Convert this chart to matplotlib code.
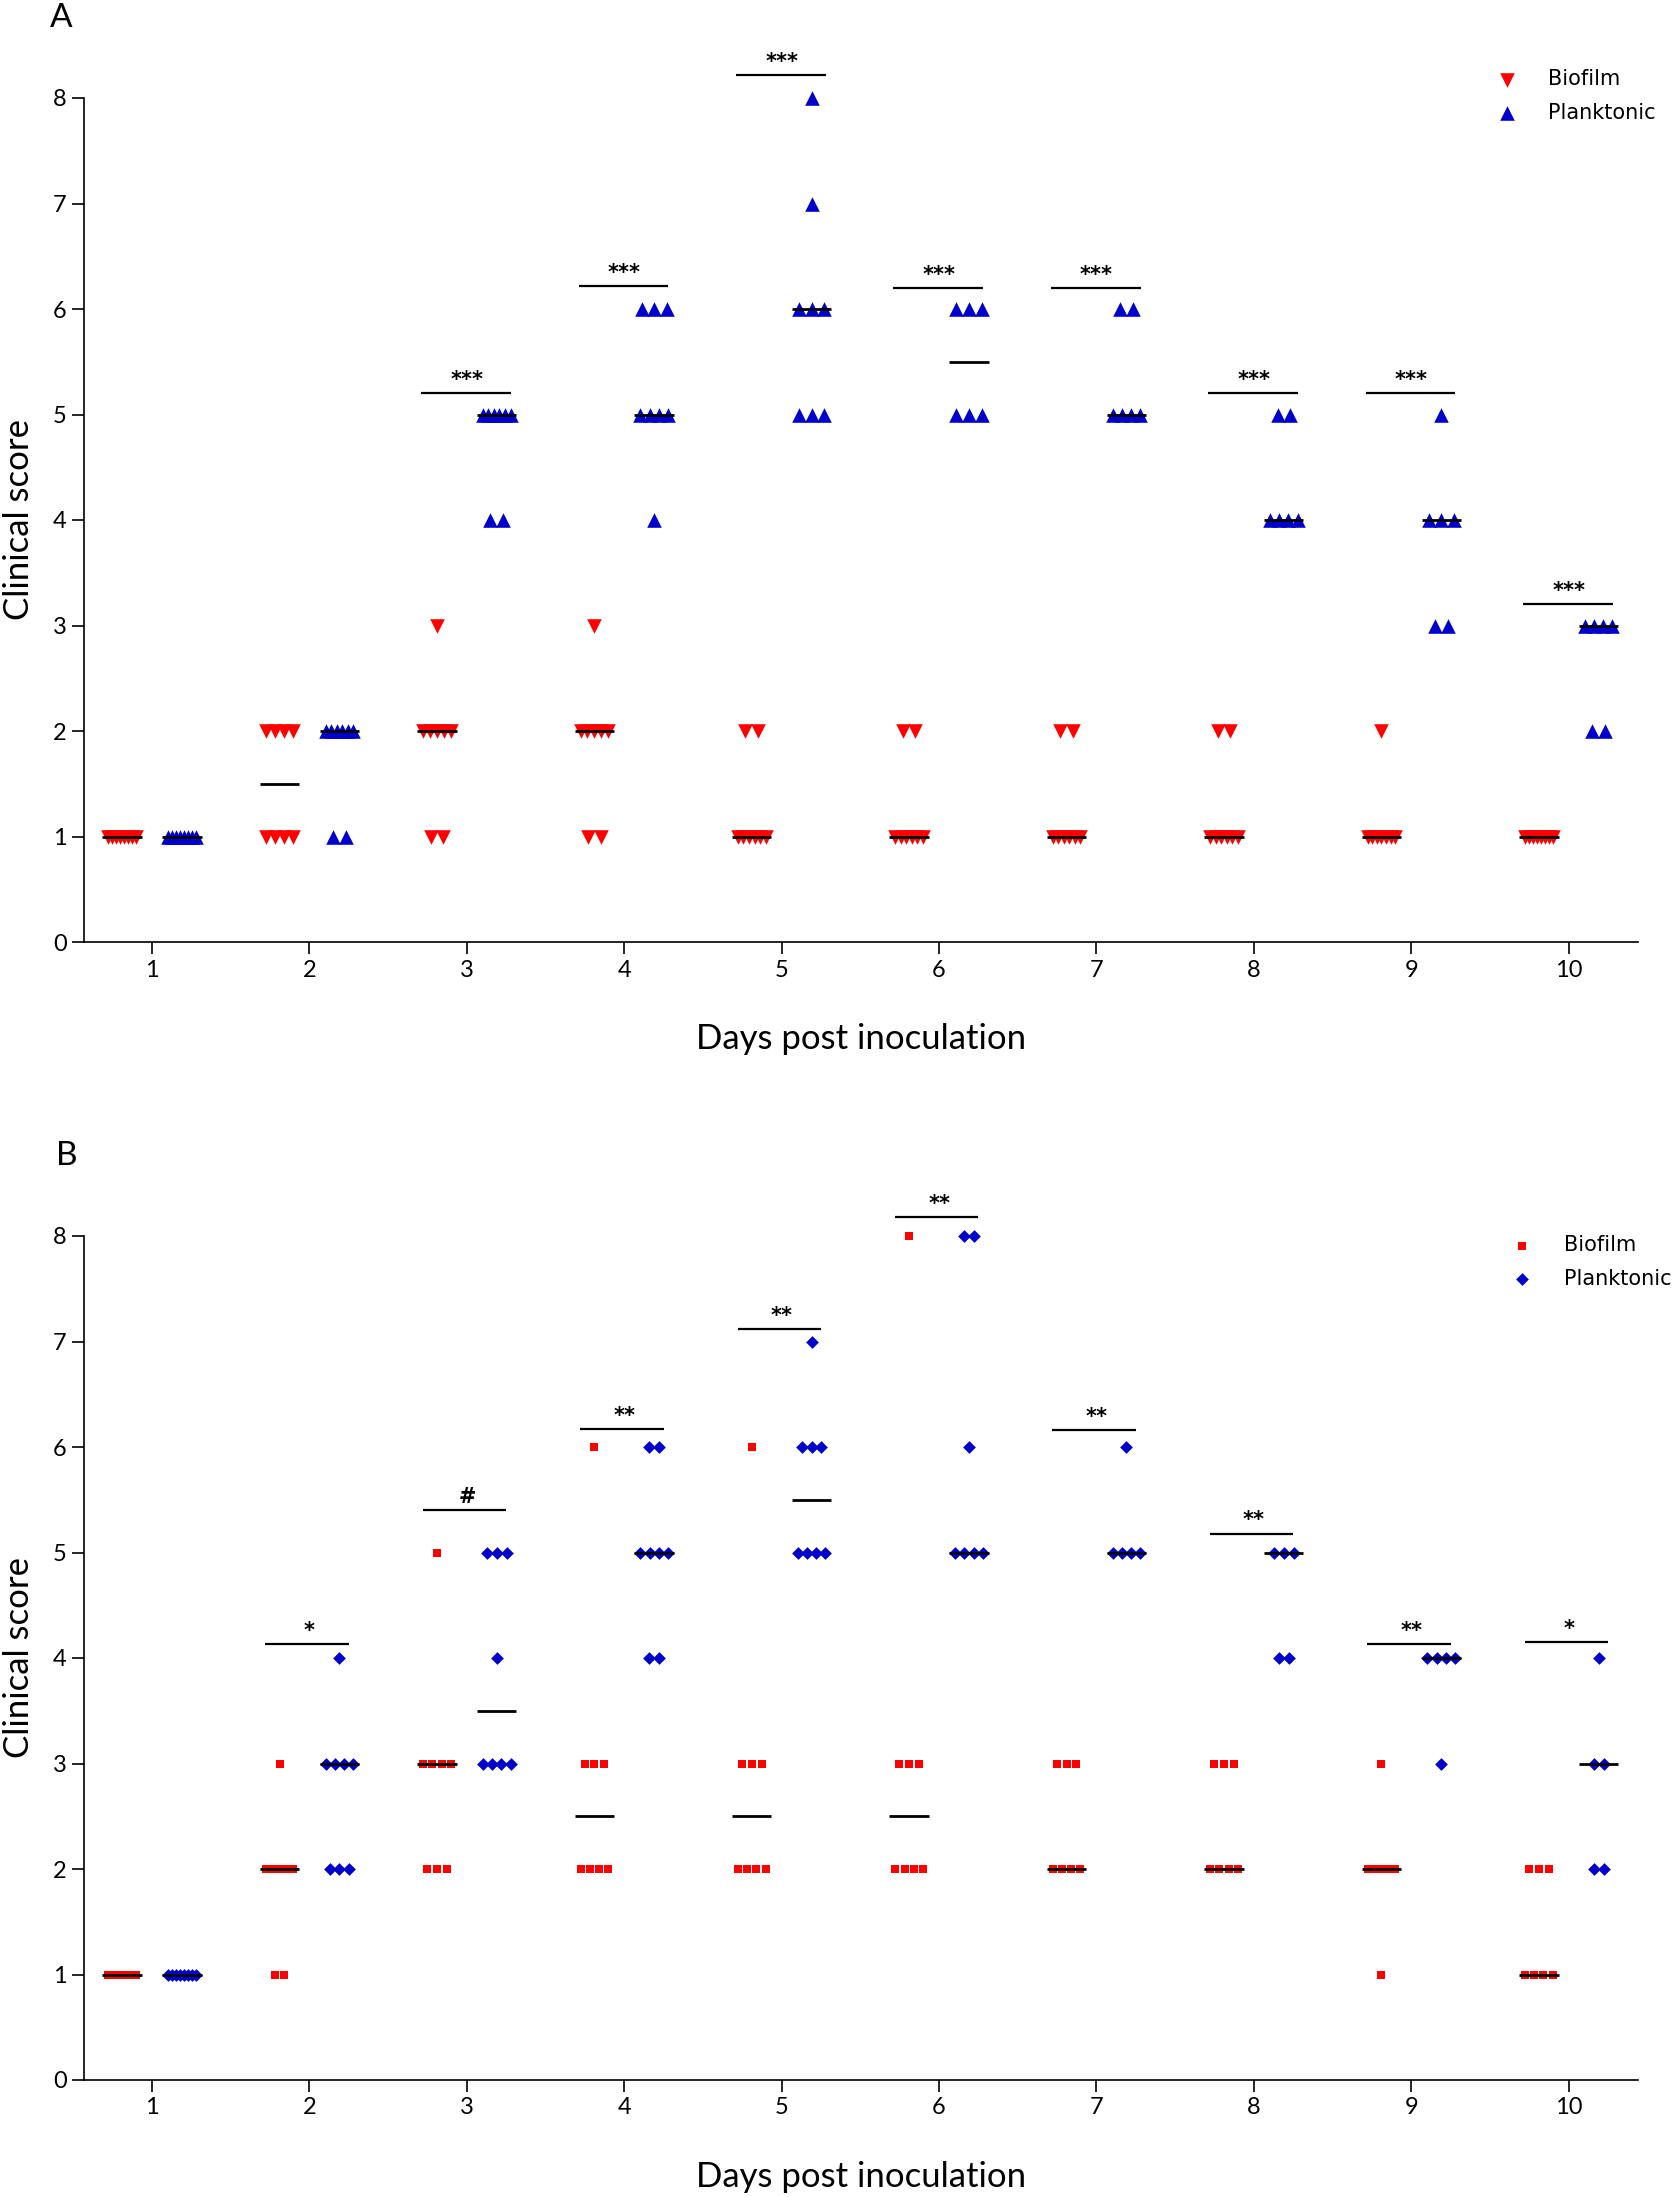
import matplotlib.pyplot as plt
import numpy as np

# clinical scores per day (8 mice per group at start)
days = [1, 2, 3, 4, 5, 6, 7, 8, 9, 10]

a_biofilm = [
    [1, 1, 1, 1, 1, 1, 1, 1],
    [2, 2, 2, 2, 1, 1, 1, 1],
    [3, 2, 2, 2, 2, 2, 1, 1],
    [3, 2, 2, 2, 2, 2, 1, 1],
    [2, 2, 1, 1, 1, 1, 1, 1],
    [2, 2, 1, 1, 1, 1, 1, 1],
    [2, 2, 1, 1, 1, 1, 1, 1],
    [2, 2, 1, 1, 1, 1, 1, 1],
    [2, 1, 1, 1, 1, 1, 1, 1],
    [1, 1, 1, 1, 1, 1, 1, 1],
]
a_plank = [
    [1, 1, 1, 1, 1, 1, 1, 1],
    [2, 2, 2, 2, 2, 2, 1, 1],
    [5, 5, 5, 5, 5, 5, 4, 4],
    [6, 6, 6, 5, 5, 5, 5, 4],
    [8, 7, 6, 6, 6, 5, 5, 5],
    [6, 6, 6, 5, 5, 5],
    [6, 6, 5, 5, 5, 5],
    [5, 5, 4, 4, 4, 4],
    [5, 4, 4, 4, 3, 3],
    [3, 3, 3, 3, 2, 2],
]
a_sig = ['', '', '***', '***', '***', '***', '***', '***', '***', '***']
a_sig_y = [0, 0, 5.2, 6.22, 8.22, 6.2, 6.2, 5.2, 5.2, 3.2]

b_biofilm = [
    [1, 1, 1, 1, 1, 1, 1, 1],
    [3, 2, 2, 2, 2, 2, 1, 1],
    [5, 3, 3, 3, 3, 2, 2, 2],
    [6, 3, 3, 3, 2, 2, 2, 2],
    [6, 3, 3, 3, 2, 2, 2, 2],
    [8, 3, 3, 3, 2, 2, 2, 2],
    [3, 3, 3, 2, 2, 2, 2],
    [3, 3, 3, 2, 2, 2, 2],
    [3, 2, 2, 2, 2, 2, 2, 1],
    [2, 2, 2, 1, 1, 1, 1],
]
b_plank = [
    [1, 1, 1, 1, 1, 1, 1, 1],
    [4, 3, 3, 3, 3, 2, 2, 2],
    [5, 5, 5, 4, 3, 3, 3, 3],
    [6, 6, 5, 5, 5, 5, 4, 4],
    [7, 6, 6, 6, 5, 5, 5, 5],
    [8, 8, 6, 5, 5, 5, 5],
    [6, 5, 5, 5, 5],
    [5, 5, 5, 4, 4],
    [4, 4, 4, 4, 3],
    [4, 3, 3, 2, 2],
]
b_sig = ['', '*', '#', '**', '**', '**', '**', '**', '**', '*']
b_sig_y = [0, 4.13, 5.4, 6.17, 7.12, 8.18, 6.16, 5.18, 4.13, 4.15]

RED = '#ff0000'
BLUE = '#0000cc'
LABEL_FONT = 'Lato'


def spread(values, center, step, maxspan):
    # lay out tied scores side by side, like a column scatter
    values = np.asarray(values, dtype=float)
    xs = np.zeros(len(values))
    for v in np.unique(values):
        idx = np.where(values == v)[0]
        k = len(idx)
        if k == 1:
            xs[idx] = center
            continue
        span = min((k - 1) * step, maxspan)
        xs[idx] = center + np.linspace(-span / 2, span / 2, k)
    return xs


def draw_panel(ax, biofilm, plank, mk_b, mk_p, size_b, size_p, step,
               sig, sig_y, sig_left, sig_right, legend_pos):
    off = 0.19
    for i, d in enumerate(days):
        xb = spread(biofilm[i], d - off, step, 0.175)
        xp = spread(plank[i], d + off, step, 0.175)
        hb = ax.scatter(xb, biofilm[i], marker=mk_b, s=size_b, color=RED,
                        linewidths=0, zorder=3, clip_on=False)
        hp = ax.scatter(xp, plank[i], marker=mk_p, s=size_p, color=BLUE,
                        linewidths=0, zorder=3, clip_on=False)
        ax.hlines(np.median(biofilm[i]), d - off - 0.125, d - off + 0.125,
                  color='black', lw=2, zorder=4)
        ax.hlines(np.median(plank[i]), d + off - 0.125, d + off + 0.125,
                  color='black', lw=2, zorder=4)
        if sig[i]:
            ax.hlines(sig_y[i], d - sig_left, d + sig_right, color='black',
                      lw=1.6, clip_on=False)
            ax.text(d, sig_y[i] + 0.03, sig[i], ha='center', va='bottom',
                    fontsize=15, fontweight='bold', family='DejaVu Sans')

    ax.set_xlim(0.568, 10.44)
    ax.set_ylim(0, 8)
    ax.set_xticks(days)
    ax.set_yticks(range(0, 9))
    ax.tick_params(axis='both', direction='out', length=8.6, width=1.2,
                   labelsize=17, pad=4)
    for lab in ax.get_xticklabels() + ax.get_yticklabels():
        lab.set_family(LABEL_FONT)
    for side in ['top', 'right']:
        ax.spines[side].set_visible(False)
    ax.spines['left'].set_linewidth(1.2)
    ax.spines['bottom'].set_linewidth(1.2)
    ax.set_ylabel('Clinical score', fontsize=25, family=LABEL_FONT)
    ax.set_xlabel('Days post inoculation', fontsize=25, family=LABEL_FONT)
    ax.legend([hb, hp], ['Biofilm', 'Planktonic'], loc='upper left',
              bbox_to_anchor=legend_pos, bbox_transform=fig.transFigure,
              frameon=False, fontsize=15, handlelength=1, handletextpad=1.5,
              borderpad=0, labelspacing=0.65, scatterpoints=1)


fig = plt.figure(figsize=(16.75, 21.97), dpi=100)
ax_a = fig.add_axes([84 / 1675, 1 - 942 / 2197, 1554 / 1675, 844 / 2197])
ax_b = fig.add_axes([84 / 1675, 1 - 2080 / 2197, 1554 / 1675, 844 / 2197])

draw_panel(ax_a, a_biofilm, a_plank, 'v', '^', 110, 110, 0.08,
           a_sig, a_sig_y, 0.29, 0.28, (1486 / 1675, 1 - 59 / 2197))
draw_panel(ax_b, b_biofilm, b_plank, 's', 'D', 30, 42, 0.062,
           b_sig, b_sig_y, 0.28, 0.25, (1501 / 1675, 1 - 1225 / 2197))

ax_a.yaxis.set_label_coords(-0.0315, 0.5)
ax_b.yaxis.set_label_coords(-0.0315, 0.5)
ax_a.xaxis.set_label_coords(0.5, -0.096)
ax_b.xaxis.set_label_coords(0.5, -0.096)

fig.text(50 / 1675, 1 - 3 / 2197, 'A', fontsize=24, family=LABEL_FONT,
         va='top', ha='left')
fig.text(56 / 1675, 1 - 1141 / 2197, 'B', fontsize=24, family=LABEL_FONT,
         va='top', ha='left')

fig.savefig('out.png', dpi=100)
